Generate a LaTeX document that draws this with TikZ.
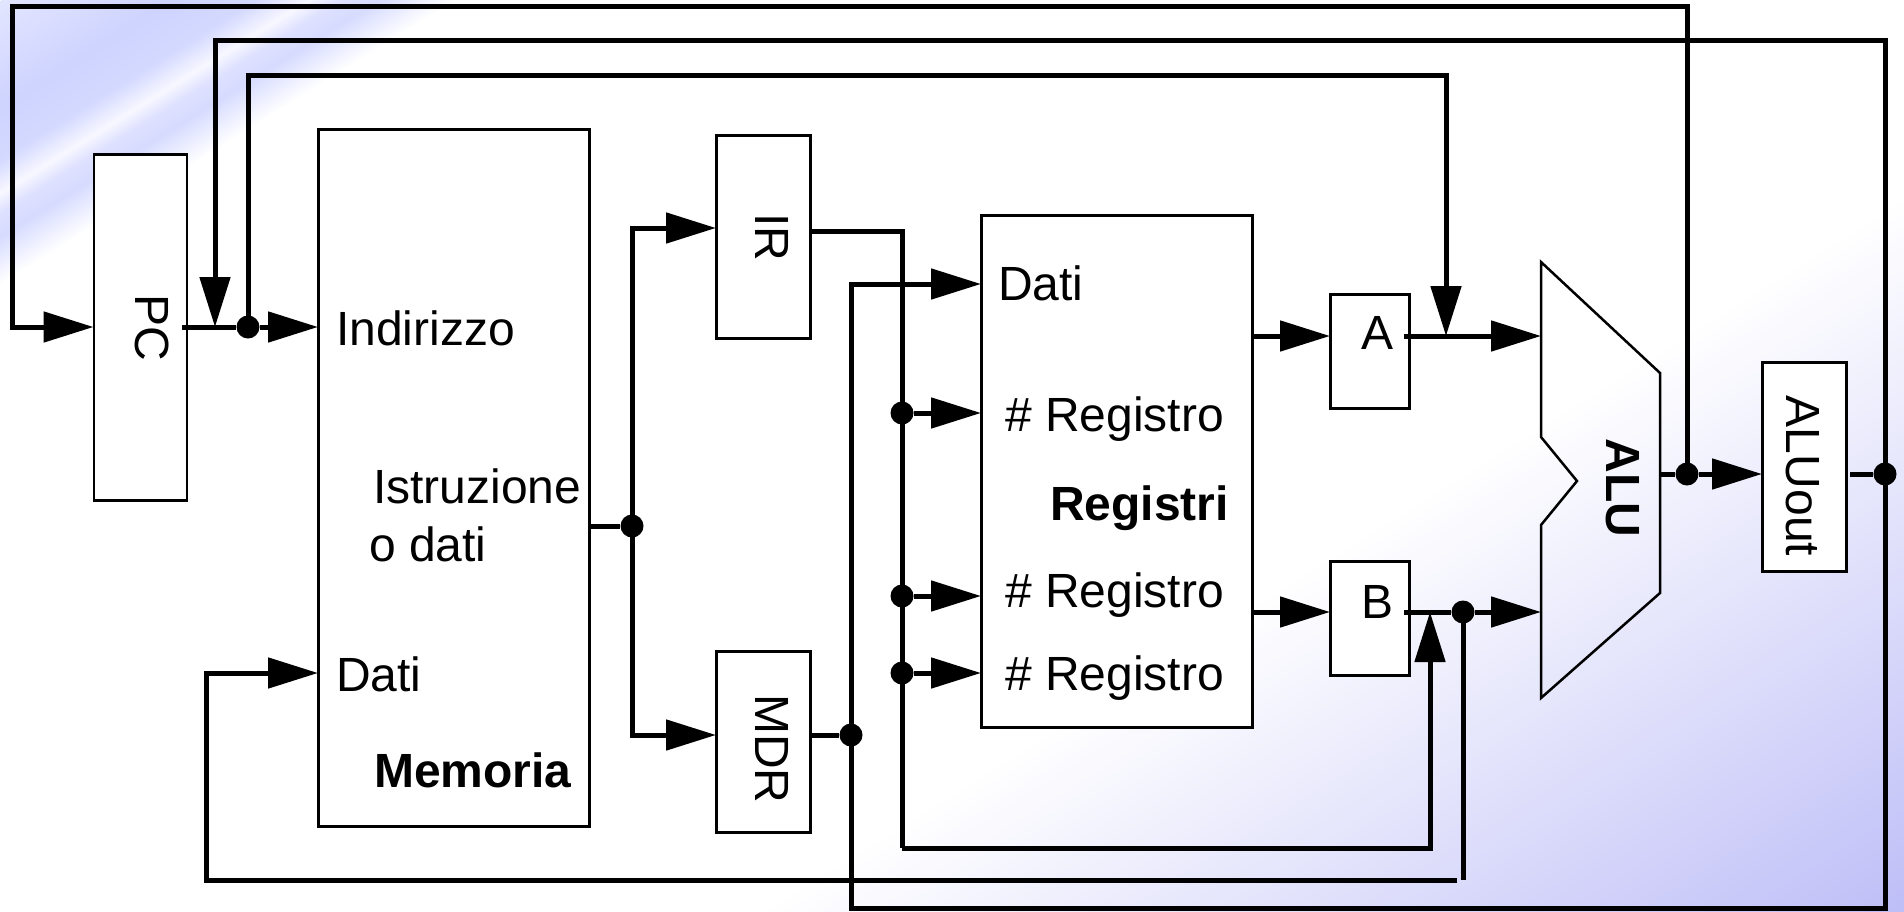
\documentclass[tikz,border=0pt]{standalone}
\usepackage{fontspec}
\setmainfont{Liberation Sans}
\usetikzlibrary{arrows.meta}
\pgfdeclarehorizontalshading{bgshade}{3000bp}{%
  rgb(0bp)=(.89,.90,1); rgb(90bp)=(.81,.83,1); rgb(135bp)=(.83,.85,1);
  rgb(163bp)=(.97,.97,1); rgb(180bp)=(.87,.88,1); rgb(200bp)=(.84,.86,1);
  rgb(240bp)=(1,1,1); rgb(1170bp)=(1,1,1); rgb(1790bp)=(.74,.74,.97)}
\tikzset{
  block/.style={rectangle, draw=black, line width=2.5pt, fill=white, anchor=north west, inner sep=0pt},
  lbl/.style={font=\fontsize{48}{52}\selectfont, inner sep=0pt, anchor=base west},
  lblbold/.style={lbl, font=\fontsize{48}{52}\selectfont\bfseries},
  lblrot/.style={font=\fontsize{48}{52}\selectfont, inner sep=0pt, rotate=-90},
  flow/.style={-{Triangle[length=50pt,width=30pt]}, draw=black, line width=5pt},
  wire/.style={draw=black, line width=5pt},
  dot/.style={circle, fill=black, inner sep=0pt, minimum size=23pt},
}
\begin{document}
\begin{tikzpicture}[x=1pt,y=-1pt]
  \useasboundingbox (0,0) rectangle (1904,911);
  % background
  \begin{scope}
    \clip (0,0) rectangle (1904,911);
    \node[rotate=-58, anchor=west, inner sep=0pt] (bg) at (0,0) {\pgfuseshading{bgshade}};
  \end{scope}
  % registers and memory
  \node[block, minimum width=93pt, minimum height=346pt] (pc) at (92.5,153) {};
  \node[block, minimum width=271pt, minimum height=697pt] (mem) at (317,128) {};
  \node[block, minimum width=94pt, minimum height=203pt] (ir) at (715,134) {};
  \node[block, minimum width=94pt, minimum height=181pt] (mdr) at (715,650) {};
  \node[block, minimum width=271pt, minimum height=512pt] (regs) at (980,214) {};
  \node[block, minimum width=79pt, minimum height=114pt] (rega) at (1329,293) {};
  \node[block, minimum width=79pt, minimum height=114pt] (regb) at (1329,560) {};
  \node[block, minimum width=84pt, minimum height=209pt] (aluout) at (1761,361) {};
  \draw[line width=2.5pt] (1541,262) -- (1660,373) -- (1660,593) -- (1541,698)
    -- (1541,525) -- (1577,481) -- (1541,437) -- cycle;
  % labels
  \node[lblrot] (pclbl) at (152,328) {PC};
  \node[lblrot] (irlbl) at (772,237) {IR};
  \node[lblrot] (mdrlbl) at (772,749) {MDR};
  \node[lblrot] (aluoutlbl) at (1803,476) {ALUout};
  \node[lblrot, font=\fontsize{48}{52}\selectfont\bfseries] (alulbl) at (1623,488) {ALU};
  \node[lbl] (addr) at (336,345) {Indirizzo};
  \node[lbl] (istr) at (373,503) {Istruzione};
  \node[lbl] (odati) at (369,561) {o dati};
  \node[lbl] (mdati) at (336,691) {Dati};
  \node[lblbold] (memlbl) at (374,787) {Memoria};
  \node[lbl] (rdati) at (998,300) {Dati};
  \node[lbl] (rnum1) at (1005,431) {\# Registro};
  \node[lblbold] (reglbl) at (1050,520) {Registri};
  \node[lbl] (rnum2) at (1005,607) {\# Registro};
  \node[lbl] (rnum3) at (1005,690) {\# Registro};
  \node[lbl] (albl) at (1361,349) {A};
  \node[lbl] (blbl) at (1361,618) {B};
  % junctions
  \node[dot] (jpc) at (248,327) {};
  \node[dot] (jmem) at (632,526) {};
  \node[dot] (jmdr) at (851,735) {};
  \node[dot] (jr1) at (902,413) {};
  \node[dot] (jr2) at (902,596) {};
  \node[dot] (jr3) at (902,673) {};
  \node[dot] (jb) at (1463,612) {};
  \node[dot] (jalu) at (1687,474) {};
  \node[dot] (jout) at (1885,474) {};
  % ports
  \coordinate (pcin) at (93.5,327);
  \coordinate (pcout) at (182,327);
  \coordinate (pcfb) at (215,327);
  \coordinate (memaddr) at (318,327);
  \coordinate (memdata) at (318,673);
  \coordinate (memout) at (589,526);
  \coordinate (irin) at (716,228);
  \coordinate (irout) at (810,231);
  \coordinate (mdrin) at (716,735);
  \coordinate (mdrout) at (810,735);
  \coordinate (regdata) at (981,284);
  \coordinate (regnum1) at (981,413);
  \coordinate (regnum2) at (981,596);
  \coordinate (regnum3) at (981,673);
  \coordinate (regouta) at (1252,336);
  \coordinate (regoutb) at (1252,612);
  \coordinate (ain) at (1330,336);
  \coordinate (bin) at (1330,612);
  \coordinate (aout) at (1404,336);
  \coordinate (bout) at (1404,612);
  \coordinate (afb) at (1446,336);
  \coordinate (bfb) at (1430,612);
  \coordinate (alua) at (1541,336);
  \coordinate (alub) at (1541,612);
  \coordinate (aluo) at (1660,474);
  \coordinate (outin) at (1762,474);
  \coordinate (outout) at (1850,474);
  \coordinate (toptop) at (12,6);
  \coordinate (midtop) at (215,40);
  \coordinate (lowtop) at (248,75);
  \coordinate (irbus) at (902,231);
  \coordinate (irlow) at (902,848);
  \coordinate (back) at (1457,880);
  \coordinate (backend) at (1463,880);
  \coordinate (memback) at (206,880);
  \coordinate (bottom) at (851,908);
  % connectors
  \draw[flow] (jalu.center) -- (jalu.center |- toptop) -- (toptop) |- (pcin);
  \draw[flow] (jout.center) -- (jout.center |- midtop) -- (midtop) -- (pcfb);
  \draw[wire] (pcout) -- (jpc);
  \draw[flow] (jpc) -- (memaddr);
  \draw[flow] (jpc.center) -- (lowtop) -| (afb);
  \draw[wire] (aout) -- (afb);
  \draw[flow] (afb) -- (alua);
  \draw[wire] (memout) -- (jmem);
  \draw[flow] (jmem.center) |- (irin);
  \draw[flow] (jmem.center) |- (mdrin);
  \draw[wire] (irout) -- (irbus) -- (irlow);
  \draw[flow] (irlow) -| (bfb);
  \draw[flow] (jr1) -- (regnum1);
  \draw[flow] (jr2) -- (regnum2);
  \draw[flow] (jr3) -- (regnum3);
  \draw[wire] (mdrout) -- (jmdr);
  \draw[flow] (jmdr.center) |- (regdata);
  \draw[wire] (jmdr.center) -- (bottom) -| (jout.center);
  \draw[flow] (regouta) -- (ain);
  \draw[flow] (regoutb) -- (bin);
  \draw[wire] (bout) -- (jb);
  \draw[flow] (jb) -- (alub);
  \draw[wire] (jb.center) -- (backend);
  \draw[flow] (back) -- (memback) |- (memdata);
  \draw[wire] (aluo) -- (jalu);
  \draw[flow] (jalu) -- (outin);
  \draw[wire] (outout) -- (jout);
\end{tikzpicture}
\end{document}
